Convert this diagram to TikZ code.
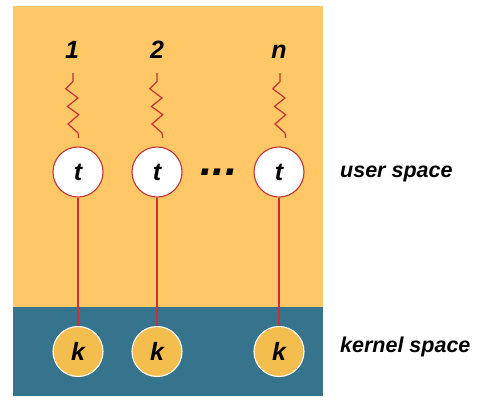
\documentclass[tikz,border=0pt]{standalone}
\usepackage{fontspec}
\setmainfont{Liberation Sans}
\usetikzlibrary{positioning}
\definecolor{userbg}{HTML}{FFC766}
\definecolor{kernelbg}{HTML}{35748C}
\definecolor{kfill}{HTML}{F4BE4E}
\definecolor{tred}{HTML}{C93234}
\def\zig{-- ++(0,8.4) -- ++(-7.3,7.3) -- ++(12.3,9.3) -- ++(-10.6,8.4) -- ++(11.3,8.3) -- ++(-10.7,9.3) -- ++(10,9) -- ++(0.7,5)}
\tikzset{
    glyph/.style={font=\bfseries\itshape\fontsize{25}{25}\selectfont},
    tcirc/.style={circle, minimum size=50pt, inner sep=0pt, draw=tred, fill=white, line width=1.1pt, glyph},
    kcirc/.style={circle, minimum size=50pt, inner sep=0pt, draw=white, fill=kfill, line width=1.1pt, glyph},
    spring/.style={draw=tred, line width=1.2pt},
    link/.style={draw=tred, line width=1.1pt},
    space/.style={font=\bfseries\itshape\fontsize{21.5}{21.5}\selectfont, anchor=base west, inner sep=0pt}
}

\begin{document}
\begin{tikzpicture}[x=1pt, y=-1pt]
    \useasboundingbox (0,0) rectangle (482,400);
    \fill [userbg] (13,6) rectangle (323,307);
    \fill [kernelbg] (13,307) rectangle (323,396);

    \node [glyph, anchor=base] (n1) at (72,58) {1};
    \node [glyph, anchor=base] (n2) at (157,58) {2};
    \node [glyph, anchor=base] (nn) at (279,58) {n};

    \coordinate (s1) at (73,73);
    \coordinate (s2) at (157,73);
    \coordinate (sn) at (280,73);
    \draw [spring] (s1) \zig;
    \draw [spring] (s2) \zig;
    \draw [spring] (sn) \zig;

    \node [tcirc] (t1) at (78,172) {t};
    \node [tcirc] (t2) at (157,172) {t};
    \node [tcirc] (tn) at (279,172) {t};
    \node [font=\bfseries\itshape\fontsize{44}{44}\selectfont, anchor=base, inner sep=0pt] (dots) at (219,175.5) {...};

    \node [kcirc] (k1) at (78,351.5) {k};
    \node [kcirc] (k2) at (157,351.5) {k};
    \node [kcirc] (kn) at (279,351.5) {k};

    \draw [link] (t1) -- (k1);
    \draw [link] (t2) -- (k2);
    \draw [link] (tn) -- (kn);

    \node [space] (user) at (340,177) {user space};
    \node [space] (kernel) at (340,352) {kernel space};
\end{tikzpicture}
\end{document}
